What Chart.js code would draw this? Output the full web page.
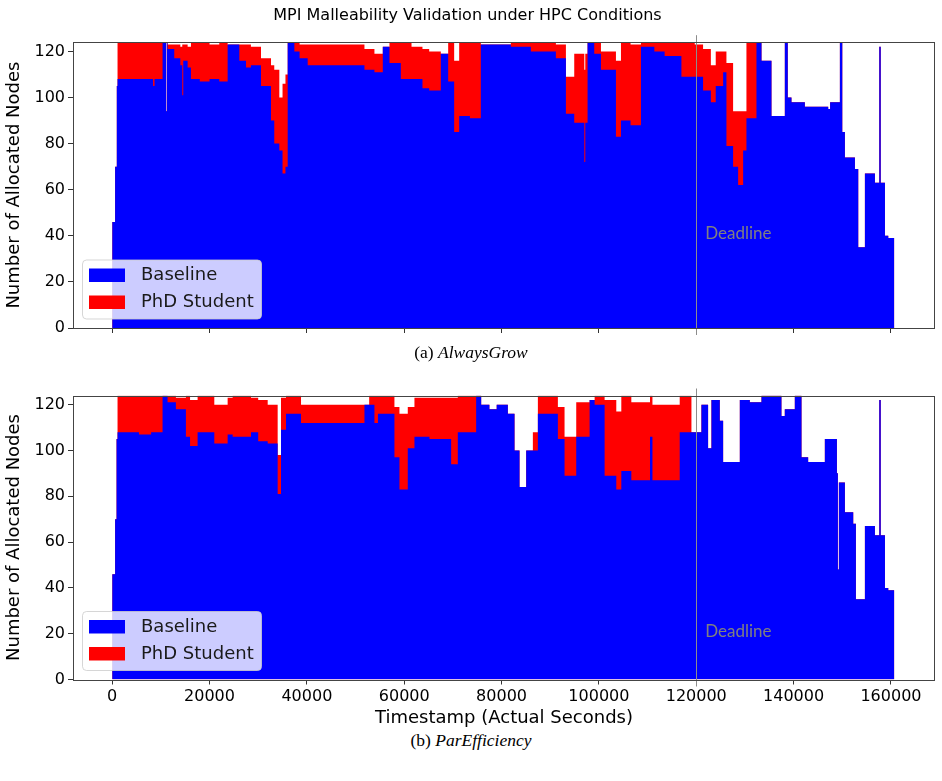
<!DOCTYPE html>
<html>
<head>
<meta charset="utf-8">
<script src="https://cdn.jsdelivr.net/npm/chart.js@4.4.1/dist/chart.umd.min.js"></script>
<style>
  body { margin: 0; background: #fff; }
  #wrap { position: relative; width: 942px; height: 781px; overflow: hidden; }
  .box { position: absolute; left: 0; width: 942px; }
  .cap { position: absolute; left: 0; width: 942px; text-align: center;
         font-family: "Liberation Serif", serif; font-size: 17.5px; color: #000; }
  .cap i { font-style: italic; }
</style>
</head>
<body>
<div id="wrap">
  <div class="box" style="top:0;height:345px"><canvas id="grow"></canvas></div>
  <div class="cap" style="top:342px">(a) <i>AlwaysGrow</i></div>
  <div class="box" style="top:380px;height:350px"><canvas id="eff"></canvas></div>
  <div class="cap" style="top:730px">(b) <i>ParEfficiency</i></div>
</div>
<script>
// (a) AlwaysGrow
const agTime = [0,600,950,1100,8400,8700,10350,11100,11250,11380,12750,14000,14400,14600,15500,16180,18000,20000,22000,23720,
  26120,27500,28500,30580,32630,33300,34340,35000,35600,36060,37430,38500,40170,51830,53880,55600,56970,59300,61500,63750,
  65130,67520,69030,70260,71290,73500,75740,81910,86020,91160,93220,94930,97000,97200,97670,99040,100420,103500,104530,106500,
  108640,111390,113500,116950,119690,121400,123000,124000,125520,126200,127570,128600,129630,130310,132370,133400,135450,138200,138800,139560,
  142310,147110,147500,149510,150000,150540,152600,153280,154650,156710,157600,157900,158770,159450,160690];
const agBaseline = [46,70,105,108,105,108,124,94,124,121,117,114,101,116,113,108,107,108,107,123,
  116,113,114,105,90,80,77,67,70,124,120,117,114,112,111,122,115,108,108,104,
  103,119,107,85,92,91,123,122,120,117,93,89,72,89,124,119,112,83,90,88,
  122,120,118,109,109,103,98,105,111,79,70,62,77,91,124,116,92,124,100,98,
  96,95,98,124,85,74,69,35,67,63,122,63,40,39,0];
const agPhd = [0,0,0,16,19,16,0,0,0,2,6,8,22,7,9,16,17,15,17,0,
  7,10,8,12,24,32,23,39,40,0,4,6,9,9,8,0,9,16,14,17,
  17,0,17,31,32,33,0,2,4,6,16,30,40,30,0,5,8,33,34,35,
  2,4,6,15,14,18,16,15,9,36,24,32,17,33,0,0,0,0,0,0,
  0,0,0,0,0,0,0,0,0,0,0,0,0,0,0];

// (b) ParEfficiency
const peTime = [0,600,900,1100,5500,8000,10350,11380,13090,15150,16000,17550,20980,23720,24750,28520,30000,31950,34000,34690,
  35710,38800,51830,52800,53880,54600,57990,59020,60730,62100,65190,69640,71010,74780,75810,77500,79000,81290,82660,83690,
  85060,86430,87460,91570,92940,95340,98090,99120,101170,103570,104600,106660,110500,111000,116600,119010,121060,122430,123120,124830,
  125520,128950,131000,133400,137500,138190,140250,141620,142990,146420,148900,149100,149300,150540,152250,152800,154650,156710,157600,157900,
  158770,159450,160690];
const peBaseline = [46,70,105,108,107,108,124,121,118,106,102,108,103,107,106,108,104,103,81,109,
  116,112,120,120,112,116,97,83,101,106,105,94,108,124,120,118,120,116,100,84,
  100,100,116,105,89,106,122,120,89,83,91,87,106,87,108,108,120,101,122,113,
  95,122,121,124,115,118,124,97,95,105,90,48,86,73,68,35,67,63,122,63,
  40,39,0];
const pePhd = [0,0,0,16,17,16,0,3,5,18,20,16,17,16,18,15,18,17,17,14,
  8,8,0,4,12,8,22,33,18,17,18,29,16,0,0,0,0,0,0,0,
  0,8,8,14,17,15,0,4,33,34,33,34,18,33,16,0,0,0,0,0,
  0,0,0,0,0,0,0,0,0,0,0,0,0,0,0,0,0,0,0,0,
  0,0,0];

const xTicks = [0,20000,40000,60000,80000,100000,120000,140000,160000];
const yTicks = [0,20,40,60,80,100,120];
const seriesNames = ['Baseline', 'PhD Student'];
const seriesColors = ['#0000ff', '#ff0000'];
const DEADLINE = 120000;

function points(time, vals) {
  return time.map((t, i) => ({ x: t, y: vals[i] }));
}
function stacked(time, base, extra) {
  return time.map((t, i) => ({ x: t, y: base[i] + extra[i] }));
}

// frame, deadline marker and the in-axes legend
const overlay = {
  id: 'overlay',
  afterDatasetsDraw(chart, args, opts) {
    const ctx = chart.ctx;
    const a = chart.chartArea;
    const px = chart.scales.x.getPixelForValue(DEADLINE);
    ctx.save();
    // deadline line, sticks out a little past the frame
    ctx.strokeStyle = '#8c8c8c';
    ctx.lineWidth = 1;
    ctx.beginPath();
    ctx.moveTo(Math.round(px) + 0.5, a.top - 7);
    ctx.lineTo(Math.round(px) + 0.5, a.bottom + 7);
    ctx.stroke();
    ctx.fillStyle = '#808080';
    ctx.font = '17px Lato';
    ctx.textBaseline = 'middle';
    ctx.textAlign = 'left';
    ctx.fillText('Deadline', px + 9, chart.scales.y.getPixelForValue(opts.labelY) - 2);
    // frame
    ctx.strokeStyle = '#444';
    ctx.strokeRect(Math.round(a.left) + 0.5, Math.round(a.top) + 0.5, Math.round(a.width) - 1, Math.round(a.height));
    // legend
    const bx = a.left + 9.5, bw = 179, bh = 59, by = a.bottom - 9 - bh, r = 4;
    ctx.beginPath();
    ctx.moveTo(bx + r, by);
    ctx.arcTo(bx + bw, by, bx + bw, by + bh, r);
    ctx.arcTo(bx + bw, by + bh, bx, by + bh, r);
    ctx.arcTo(bx, by + bh, bx, by, r);
    ctx.arcTo(bx, by, bx + bw, by, r);
    ctx.closePath();
    ctx.fillStyle = 'rgba(255,255,255,0.8)';
    ctx.fill();
    ctx.strokeStyle = 'rgba(204,204,204,0.8)';
    ctx.stroke();
    ctx.font = '18px "DejaVu Sans"';
    chart.data.datasets.forEach((ds, i) => {
      const py = by + 8.5 + i * 27;
      ctx.fillStyle = ds.backgroundColor;
      ctx.fillRect(bx + 6.5, py, 36, 13.5);
      ctx.fillStyle = '#1a1a1a';
      ctx.fillText(ds.label, bx + 58.5, py + 7);
    });
    ctx.restore();
  }
};

function makeChart(id, time, base, extra, opts) {
  const tickFont = { family: 'DejaVu Sans', size: 16 };
  return new Chart(document.getElementById(id), {
    type: 'line',
    data: {
      datasets: [
        { label: seriesNames[0], data: points(time, base), stepped: true, fill: 'origin',
          backgroundColor: seriesColors[0], borderColor: 'rgba(0,0,0,0)', borderWidth: 0, pointRadius: 0 },
        { label: seriesNames[1], data: stacked(time, base, extra), stepped: true, fill: 'origin',
          backgroundColor: seriesColors[1], borderColor: 'rgba(0,0,0,0)', borderWidth: 0, pointRadius: 0 }
      ]
    },
    options: {
      responsive: true,
      maintainAspectRatio: false,
      animation: false,
      layout: { padding: { left: 0, right: 7, top: opts.padTop, bottom: opts.padBottom } },
      plugins: {
        legend: { display: false },
        tooltip: { enabled: false },
        title: opts.title ? {
          display: true, text: opts.title, color: '#000',
          font: { family: 'DejaVu Sans', size: 16, weight: 'normal' },
          padding: { top: 6, bottom: 17 }
        } : { display: false },
        overlay: { labelY: opts.labelY }
      },
      scales: {
        x: {
          type: 'linear', min: -8050, max: 169050,
          afterBuildTicks: s => { s.ticks = xTicks.map(v => ({ value: v })); },
          afterFit: s => { s.height = opts.xHeight; },
          ticks: { display: opts.xLabels, font: tickFont, color: '#000', padding: 3,
                   maxRotation: 0, autoSkip: false, callback: v => String(v) },
          grid: { drawOnChartArea: false, drawTicks: true, tickLength: 5, color: '#333' },
          border: { display: false },
          title: { display: opts.xLabels, text: 'Timestamp (Actual Seconds)', color: '#000',
                   font: { family: 'DejaVu Sans', size: 18 }, padding: { top: 0, bottom: 1 } }
        },
        y: {
          min: 0, max: 124,
          afterBuildTicks: s => { s.ticks = yTicks.map(v => ({ value: v })); },
          afterFit: s => { s.width = 73; },
          ticks: { font: tickFont, color: '#000', padding: 3 },
          grid: { drawOnChartArea: false, drawTicks: true, tickLength: 5, color: '#333' },
          border: { display: false },
          title: { display: true, text: 'Number of Allocated Nodes', color: '#000',
                   font: { family: 'DejaVu Sans', size: 18 }, padding: { top: 4, bottom: 0 } }
        }
      }
    },
    plugins: [overlay]
  });
}

makeChart('grow', agTime, agBaseline, agPhd,
  { title: 'MPI Malleability Validation under HPC Conditions', padTop: 0, padBottom: 7,
    xHeight: 10, xLabels: false, labelY: 40 });
makeChart('eff', peTime, peBaseline, pePhd,
  { title: null, padTop: 15.5, padBottom: 0, xHeight: 50.5, xLabels: true, labelY: 20 });
</script>
</body>
</html>
